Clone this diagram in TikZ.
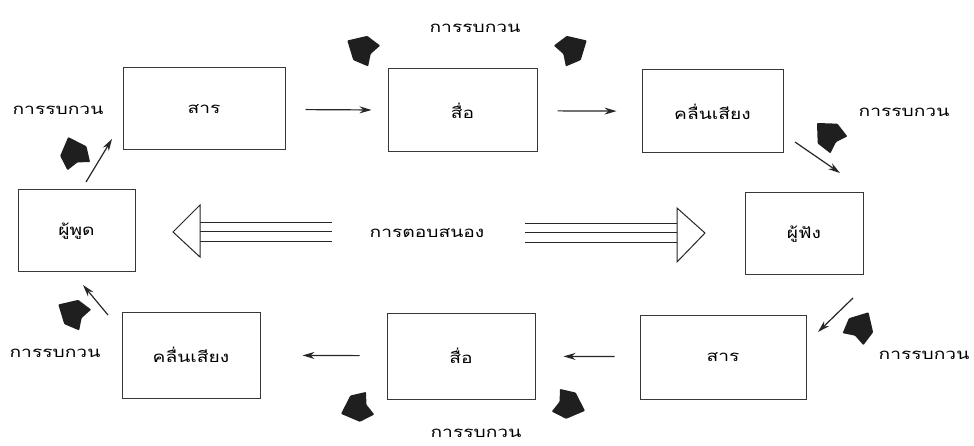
\documentclass[tikz,border=0pt]{standalone}
\usepackage{fontspec}
\usepackage{graphicx}
\newfontfamily\thaifont[Script=Thai]{Loma}
\usetikzlibrary{arrows.meta}
\newcommand\tht[1]{\scalebox{1.28}[1]{\thaifont #1}}
\newcommand\noiseat[3]{\fill[noise,shift={(#1,#2)},rotate=#3] (-14,-12) -- (2,-14) -- (17,0) -- (2,14) -- (-14,12) -- (-10,0) -- cycle;}
\begin{document}
\begin{tikzpicture}[x=1pt,y=-1pt,
 box/.style={draw=black!78, line width=1pt, inner sep=0pt, font=\fontsize{15}{18}\selectfont},
 lbl/.style={font=\fontsize{15}{18}\selectfont, inner sep=0pt},
 flow/.style={draw=black!85, line width=1.2pt, -{Stealth[length=12pt,width=7pt]}},
 fb/.style={draw=black!85, line width=1pt},
 fbhead/.style={draw=black!85, line width=1pt, fill=white, line join=miter},
 noise/.style={fill=black!88, rounded corners=0.8pt}]
\useasboundingbox (0,0) rectangle (974,446);

% boxes
\node[box, minimum width=162pt, minimum height=82pt] (sar1) at (204,109) {\tht{สาร}};
\node[box, minimum width=149pt, minimum height=83pt] (sue1) at (462.5,110.5) {\tht{สื่อ}};
\node[box, minimum width=141pt, minimum height=83pt] (khl1) at (712.5,111.5) {\tht{คลื่นเสียง}};
\node[box, minimum width=117pt, minimum height=82pt] (phut) at (76.5,231) {\tht{ผู้พูด}};
\node[box, minimum width=118pt, minimum height=82pt] (fang) at (804,234) {\tht{ผู้ฟัง}};
\node[box, minimum width=138pt, minimum height=86pt] (khl2) at (191,355) {\tht{คลื่นเสียง}};
\node[box, minimum width=148pt, minimum height=86pt] (sue2) at (461,356) {\tht{สื่อ}};
\node[box, minimum width=166pt, minimum height=84pt] (sar2) at (723,357) {\tht{สาร}};

% labels
\node[lbl] (nz1) at (475,28) {\tht{การรบกวน}};
\node[lbl] (nz2) at (58,110) {\tht{การรบกวน}};
\node[lbl] (nz3) at (904,112) {\tht{การรบกวน}};
\node[lbl] (nz4) at (55,353) {\tht{การรบกวน}};
\node[lbl] (nz5) at (924,355) {\tht{การรบกวน}};
\node[lbl] (nz6) at (476,433) {\tht{การรบกวน}};
\node[lbl] (resp) at (427,233) {\tht{การตอบสนอง}};

% flow arrows
\draw[flow] (sar1) -- (sue1) [shorten <=20pt, shorten >=16pt];
\draw[flow] (sue1) -- (khl1) [shorten <=20pt, shorten >=25pt];
\coordinate (a3s) at (795,142); \coordinate (a3e) at (840,173);
\draw[flow] (a3s) -- (a3e);
\coordinate (a4s) at (853,298); \coordinate (a4e) at (818,332);
\draw[flow] (a4s) -- (a4e);
\draw[flow] (sar2) -- (sue2) [shorten <=25pt, shorten >=28pt];
\draw[flow] (sue2) -- (khl2) [shorten <=27pt, shorten >=42pt];
\coordinate (a7s) at (108,315); \coordinate (a7e) at (83,285);
\draw[flow] (a7s) -- (a7e);
\coordinate (a8s) at (86,182); \coordinate (a8e) at (112,139);
\draw[flow] (a8s) -- (a8e);

% feedback triple arrows
\draw[fb] (200,223) -- (332,223) (200,232) -- (332,232) (200,242) -- (332,242);
\draw[fbhead] (200,205) -- (173,232) -- (200,257) -- cycle;
\draw[fb] (525,224) -- (677,224) (525,233) -- (677,233) (525,243) -- (677,243);
\draw[fbhead] (677,208) -- (705,233) -- (677,262) -- cycle;

% noise blobs
\noiseat{362}{49}{150}
\noiseat{572}{49}{30}
\noiseat{74}{153}{110}
\noiseat{73}{313}{150}
\noiseat{829}{135}{135}
\noiseat{860}{327}{60}
\noiseat{357}{408}{200}
\noiseat{569}{405}{-20}
\end{tikzpicture}
\end{document}
